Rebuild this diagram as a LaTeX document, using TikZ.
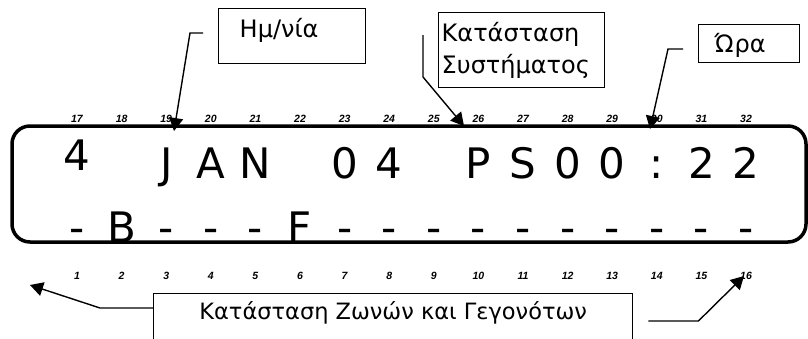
\documentclass[tikz,border=0pt]{standalone}
\usepackage{fontspec}
\setmainfont{DejaVu Sans}
\newfontfamily\numfont{Liberation Sans}
\usetikzlibrary{arrows.meta, calc, positioning}

\begin{document}
\begin{tikzpicture}[x=1pt, y=-1pt,
  lbl/.style={draw, line width=1.4pt, anchor=north west, align=left, inner ysep=0pt,
    font=\fontsize{24}{32}\selectfont},
  ptr/.style={line width=1.4pt, -{Triangle[length=13pt, width=14pt]}},
  cell/.style={anchor=base, inner sep=0pt, font=\fontsize{42}{42}\selectfont},
  idx/.style={anchor=base, inner sep=0pt, font=\numfont\bfseries\itshape\fontsize{10.5}{10.5}\selectfont}]
\useasboundingbox (0,0) rectangle (808,338);
% LCD frame
\node[draw, line width=3.5pt, rounded corners=18pt, minimum width=794pt, minimum height=116pt,
  inner sep=0pt] (lcd) at (409,184) {};
% cell numbers
\foreach \i in {17,...,32}
  \node[idx] (n\i) at ({77+(\i-17)*44.6},122) {\i};
\foreach \i in {1,...,16}
  \node[idx] (n\i) at ({77+(\i-1)*44.6},279) {\i};
% first line of the display
\node[cell] (c17) at (77,170) {4};
\foreach \i/\ch in {19/J,20/A,21/N,23/0,24/4,26/P,27/S,28/0,29/0,30/:,31/2,32/2}
  \node[cell] (c\i) at ({77+(\i-17)*44.6},178) {\ch};
% second line of the display
\foreach \ch [count=\i] in {-,B,-,-,-,F,-,-,-,-,-,-,-,-,-,-}
  \node[cell] (c\i) at ({77+(\i-1)*44.6},242) {\ch};
% labels
\node[lbl, text width=105pt, inner xsep=21pt, text height=29pt, text depth=26pt] (date) at (218,8) {Ημ/νία};
\node[lbl, text width=160pt, inner xsep=3pt, minimum height=75pt] (sys) at (438,12) {Κατάσταση\\Συστήματος};
\node[lbl, text width=69pt, inner xsep=16pt, text height=28pt, text depth=10pt] (clock) at (698,24) {Ώρα};
\node[lbl, font=\fontsize{22.5}{28}\selectfont, minimum width=479pt, inner xsep=0pt,
  text height=26pt, text depth=54pt] (zones) at (153,293) {Κατάσταση Ζωνών και Γεγονότων};
% arrow ends
\coordinate (dateTip) at (174,131);
\coordinate (sysTip) at (464,126);
\coordinate (clockTip) at (650,129);
\coordinate (firstTip) at (30,285);
\coordinate (lastTip) at (744,276);
% arrows
\draw[ptr] ($(date.north west)+(-15,25)$) -- ++(-13,0) -- (dateTip);
\draw[ptr] ($(sys.north west)+(-15,23)$) -- ++(0,42) -- (sysTip);
\draw[ptr] ($(clock.north west)+(-15,25)$) -- ++(-15,0) -- (clockTip);
\draw[ptr] ($(zones.north west)+(0,15)$) -- ++(-53,0) -- (firstTip);
\draw[ptr] ($(zones.north east)+(15,28)$) -- ++(50,0) -- (lastTip);
\end{tikzpicture}
\end{document}
